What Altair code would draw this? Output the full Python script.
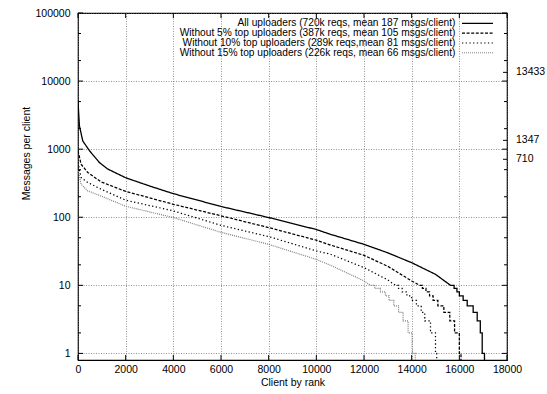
import altair as alt
import pandas as pd

FONT = "Liberation Sans"
FS = 10.5
FLOOR = 0.8

SERIES = [
    "All uploaders (720k reqs, mean 187 msgs/client)",
    "Without 5% top uploaders (387k reqs, mean 105 msgs/client)",
    "Without 10% top uploaders (289k reqs,mean 81 msgs/client)",
    "Without 15% top uploaders (226k reqs, mean 66 msgs/client)",
]

# smooth head part (rank, messages)
all_ranks = [0, 60, 200, 480, 900, 1250, 2000, 3000, 4000, 6000, 8000, 10000, 10600, 12000, 13000, 14000, 15000, 15630]
all_vals = [5000, 2200, 1320, 950, 635, 510, 380, 288, 222, 144, 99, 66, 56, 40, 30, 21.5, 14.5, 10]
all_step_ranks = [15780, 15900, 16000, 16160, 16330, 16580, 16750, 16880, 16960]
all_step_vals = [9, 8, 7, 6, 5, 4, 3, 2, 1]
all_end = 17055

w5_ranks = [0, 130, 410, 970, 2000, 4000, 6000, 8000, 10000, 10600, 12000, 13000, 14000, 14340]
w5_vals = [950, 600, 455, 330, 240, 155, 105, 70.5, 46, 39, 27.6, 19, 11.6, 10]
w5_step_ranks = [14450, 14600, 14750, 14900, 15100, 15350, 15600, 15800, 16000]
w5_step_vals = [9, 8, 7, 6, 5, 4, 3, 2, 1]
w5_end = 16070

w10_ranks = [0, 130, 410, 970, 2000, 4000, 6000, 8000, 10000, 10600, 12000, 13000, 13320]
w10_vals = [635, 383, 324, 258, 178, 124, 76, 52, 32, 28.6, 18.2, 12, 10]
w10_step_ranks = [13450, 13600, 13800, 14000, 14200, 14400, 14550, 14790, 15000]
w10_step_vals = [9, 8, 7, 6, 5, 4, 3, 2, 1]
w10_end = 15050

w15_ranks = [0, 130, 410, 970, 2000, 4000, 6000, 8000, 10000, 10600, 12000, 12270]
w15_vals = [508, 305, 244, 205, 145, 99, 60, 40, 24, 19.7, 11.6, 10]
w15_step_ranks = [12450, 12690, 12900, 13050, 13250, 13450, 13640, 13850, 14020]
w15_step_vals = [9, 8, 7, 6, 5, 4, 3, 2, 1]
w15_end = 14150

X_TICKS = [0, 2000, 4000, 6000, 8000, 10000, 12000, 14000, 16000, 18000]
Y_TICKS = [1, 10, 100, 1000, 10000, 100000]
Y_MINOR = [2, 5, 20, 50, 200, 500, 2000, 5000, 20000, 50000]
RIGHT_VALUES = [13433, 1347, 710]
RIGHT_LABELS = ["13433", "1347", "710"]

COLORS = ["#000000", "#000000", "#000000", "#808080"]
DASHES = [[1, 0], [3, 1.6], [1.3, 2.4], [1, 1]]
WIDTHS = [1.3, 1.2, 1.2, 1.0]

W, H = 429, 347
PAD_L, PAD_T = 78, 13


def build(name, ranks, vals, sranks, svals, end):
    rows = [(r, v) for r, v in zip(ranks, vals)]
    prev = vals[-1]
    for r, v in zip(sranks, svals):
        rows.append((r, prev))
        rows.append((r, v))
        prev = v
    rows.append((end, prev))
    rows.append((end, FLOOR))
    return pd.DataFrame({"rank": [a for a, _ in rows], "value": [b for _, b in rows],
                         "series": name, "i": range(len(rows))})


df = pd.concat([
    build(SERIES[0], all_ranks, all_vals, all_step_ranks, all_step_vals, all_end),
    build(SERIES[1], w5_ranks, w5_vals, w5_step_ranks, w5_step_vals, w5_end),
    build(SERIES[2], w10_ranks, w10_vals, w10_step_ranks, w10_step_vals, w10_end),
    build(SERIES[3], w15_ranks, w15_vals, w15_step_ranks, w15_step_vals, w15_end),
], ignore_index=True)

xscale = alt.Scale(domain=[0, 18000], nice=False, zero=False)
yscale = alt.Scale(type="log", domain=[FLOOR, 100000], nice=False)

xaxis = alt.Axis(values=X_TICKS, format="d", grid=True, gridDash=[1, 1.5], gridColor="#666",
                 gridWidth=0.7, ticks=False, tickSize=0, domain=False, labelPadding=4,
                 labelFlush=False, labelOverlap=False,
                 labelFont=FONT, labelFontSize=FS, labelColor="black",
                 title="Client by rank", titleFont=FONT, titleFontSize=FS, titleFontWeight="normal",
                 titleColor="black", titleY=22, titleBaseline="middle")
yaxis = alt.Axis(values=Y_TICKS, format="d", grid=True, gridDash=[1, 1.5], gridColor="#666",
                 gridWidth=0.7, ticks=False, tickSize=0, domain=False, labelPadding=8,
                 labelFlush=False, labelOverlap=False,
                 labelFont=FONT, labelFontSize=FS, labelColor="black",
                 title="Messages per client", titleFont=FONT, titleFontSize=FS,
                 titleFontWeight="normal", titleColor="black", titleAngle=270,
                 titleX=-52, titleY=140, titleBaseline="middle", titleAlign="center")


def X(field="rank"):
    return alt.X(f"{field}:Q", scale=xscale, axis=xaxis)


def Y(field="value"):
    return alt.Y(f"{field}:Q", scale=yscale, axis=yaxis)


lines = alt.Chart(df).mark_line(clip=True).encode(
    x=X(), y=Y(),
    color=alt.Color("series:N", scale=alt.Scale(domain=SERIES, range=COLORS), legend=None),
    strokeDash=alt.StrokeDash("series:N", scale=alt.Scale(domain=SERIES, range=DASHES), legend=None),
    strokeWidth=alt.StrokeWidth("series:N", scale=alt.Scale(domain=SERIES, range=WIDTHS), legend=None),
    order="i:Q",
)

ymaj = pd.DataFrame({"value": Y_TICKS})
ymin = pd.DataFrame({"value": Y_MINOR})
yright = pd.DataFrame({"value": RIGHT_VALUES, "label": RIGHT_LABELS})
xmaj = pd.DataFrame({"rank": X_TICKS})

tick_layers = [
    alt.Chart(ymaj).mark_rule(color="black", strokeWidth=1).encode(y=Y(), x=alt.value(0), x2=alt.value(5)),
    alt.Chart(ymaj).mark_rule(color="black", strokeWidth=1).encode(y=Y(), x=alt.value(W - 5), x2=alt.value(W)),
    alt.Chart(ymin).mark_rule(color="black", strokeWidth=1).encode(y=Y(), x=alt.value(0), x2=alt.value(3)),
    alt.Chart(ymin).mark_rule(color="black", strokeWidth=1).encode(y=Y(), x=alt.value(W - 3), x2=alt.value(W)),
    alt.Chart(yright).mark_rule(color="black", strokeWidth=1).encode(y=Y(), x=alt.value(W - 4), x2=alt.value(W)),
    alt.Chart(xmaj).mark_rule(color="black", strokeWidth=1).encode(x=X(), y=alt.value(H), y2=alt.value(H - 5)),
    alt.Chart(xmaj).mark_rule(color="black", strokeWidth=1).encode(x=X(), y=alt.value(0), y2=alt.value(5)),
]

right_labels = alt.Chart(yright).mark_text(align="left", baseline="middle", font=FONT,
                                           fontSize=FS, color="black").encode(
    y=Y(), x=alt.value(W + 9), text="label:N")

legend_layers = []
LEG_Y = [10.3, 20.2, 30.0, 39.8]
for k, name in enumerate(SERIES):
    legend_layers.append(
        alt.Chart(pd.DataFrame({"t": [name]})).mark_text(
            align="right", baseline="middle", font=FONT, fontSize=10.2, color="black"
        ).encode(text="t:N", x=alt.value(377.5), y=alt.value(LEG_Y[k]))
    )
    legend_layers.append(
        alt.Chart(pd.DataFrame({"t": [name]})).mark_rule(
            color=COLORS[k], strokeDash=DASHES[k], strokeWidth=WIDTHS[k]
        ).encode(x=alt.value(384), x2=alt.value(415), y=alt.value(LEG_Y[k]))
    )

chart = alt.layer(lines, *tick_layers, right_labels, *legend_layers).properties(
    width=W, height=H,
    autosize=alt.AutoSizeParams(type="none"),
    padding={"left": PAD_L, "top": PAD_T, "right": 547 - PAD_L - W, "bottom": 394 - PAD_T - H},
    background="white",
).configure_view(stroke="black", strokeWidth=1.2)

chart.save("out.html", embed_options={"renderer": "svg", "actions": False})
